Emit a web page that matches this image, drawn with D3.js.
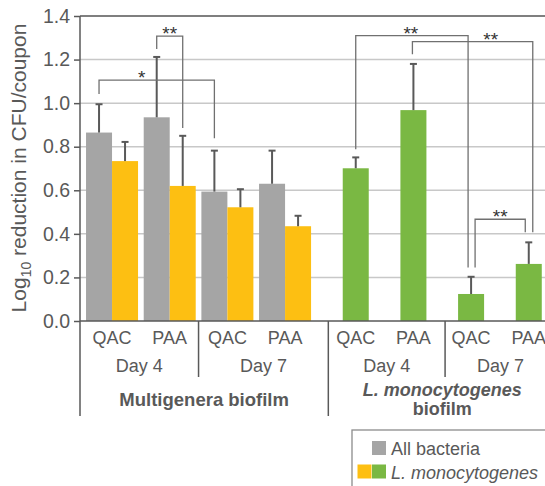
<!DOCTYPE html>
<html>
<head>
<meta charset="utf-8">
<script src="https://cdn.jsdelivr.net/npm/d3@7"></script>
<style>
  body { margin: 0; background: #fff; }
  svg { display: block; font-family: "Liberation Sans", Arial, sans-serif; }
  .lbl { fill: #595959; }
</style>
</head>
<body>
<div id="chart"></div>
<script>
// values (log10 reduction, mean and SD)
var treatments = ["QAC", "PAA", "QAC", "PAA", "QAC", "PAA", "QAC", "PAA"];
var days = ["Day 4", "Day 4", "Day 7", "Day 7", "Day 4", "Day 4", "Day 7", "Day 7"];
var biofilms = ["multi", "multi", "multi", "multi", "lm", "lm", "lm", "lm"];
var allMean = [0.865, 0.935, 0.594, 0.630, null, null, null, null];
var allErr = [0.130, 0.277, 0.188, 0.152, null, null, null, null];
var lmMean = [0.734, 0.620, 0.522, 0.435, 0.701, 0.968, 0.124, 0.262];
var lmErr = [0.088, 0.230, 0.083, 0.048, 0.050, 0.212, 0.079, 0.099];
var yTicks = [0, 0.2, 0.4, 0.6, 0.8, 1.0, 1.2, 1.4];

// significance brackets: [category, series, nudge] ends, bar height, leg ends, label
var brackets = [
  { a: [0, "all"], b: [2, "all"], y: 1.106, ya: 1.042, yb: 0.839, text: "*", at: 0.37 },
  { a: [1, "all"], b: [1, "lm"], y: 1.308, ya: 1.249, yb: 0.886, text: "**", at: 0.5 },
  { a: [4, "lm"], b: [6, "lm", -3], y: 1.310, ya: 0.788, yb: 0.246, text: "**", at: 0.49 },
  { a: [5, "lm", -1], b: [7, "lm", 4], y: 1.282, ya: 1.224, yb: 0.407, text: "**", at: 0.65 },
  { a: [6, "lm", 4], b: [7, "lm", -3.5], y: 0.467, ya: 0.246, yb: 0.407, text: "**", at: 0.5 }
];

var colors = { all: "#a5a5a5", multi: "#fdbf12", lm: "#7ab843" };
var ink = "#595959";

var width = 545, height = 486;
var svg = d3.select("#chart").append("svg")
  .attr("width", width)
  .attr("height", height);

var idx = d3.range(treatments.length);
var x0 = d3.scaleBand().domain(idx).range([83.2, 544.6]).padding(0);
var x1 = d3.scaleBand().domain(["all", "lm"]).range([0, x0.bandwidth()])
  .paddingInner(0).paddingOuter(0.109);
var y = d3.scaleLinear().domain([0, 1.4]).range([321, 16]);

function barX(i, s) { return x0(i) + x1(s); }
function barMid(i, s) { return barX(i, s) + x1.bandwidth() / 2; }

// gridlines
svg.append("g")
  .selectAll("line")
  .data(yTicks.filter(function(d) { return d > 0; }))
  .enter().append("line")
    .attr("x1", 80).attr("x2", width)
    .attr("y1", function(d) { return y(d); })
    .attr("y2", function(d) { return y(d); })
    .attr("stroke", function(d) { return d === 1.4 ? "#555" : "#c8c8c8"; })
    .attr("stroke-width", 1.5);

// y axis
var yAxis = svg.append("g")
  .attr("transform", "translate(80,0)")
  .call(d3.axisLeft(y).tickValues(yTicks).tickSize(6).tickPadding(4)
    .tickFormat(d3.format(".1f")));
yAxis.select(".domain").remove();
yAxis.selectAll(".tick line").attr("stroke", ink).attr("stroke-width", 1.5);
yAxis.selectAll(".tick text")
  .attr("fill", ink)
  .attr("font-size", 19.5)
  .attr("font-family", "Liberation Sans, Arial, sans-serif");

// bars
var rows = idx.map(function(i) {
  return { i: i, all: allMean[i], allE: allErr[i], lm: lmMean[i], lmE: lmErr[i], bio: biofilms[i] };
});

var bars = [];
rows.forEach(function(r) {
  if (r.all != null) bars.push({ i: r.i, s: "all", v: r.all, e: r.allE, c: colors.all });
  bars.push({ i: r.i, s: "lm", v: r.lm, e: r.lmE, c: r.bio === "multi" ? colors.multi : colors.lm });
});

svg.append("g").selectAll("rect")
  .data(bars)
  .enter().append("rect")
    .attr("x", function(d) { return barX(d.i, d.s); })
    .attr("width", x1.bandwidth())
    .attr("y", function(d) { return y(d.v); })
    .attr("height", function(d) { return y(0) - y(d.v); })
    .attr("fill", function(d) { return d.c; });

// error bars (upper only)
var eb = svg.append("g").attr("stroke", ink).attr("stroke-width", 2);
bars.forEach(function(d) {
  var cx = barMid(d.i, d.s);
  eb.append("line").attr("x1", cx).attr("x2", cx)
    .attr("y1", y(d.v)).attr("y2", y(d.v + d.e));
  eb.append("line").attr("x1", cx - 3.5).attr("x2", cx + 3.5)
    .attr("y1", y(d.v + d.e)).attr("y2", y(d.v + d.e));
});

// significance brackets
var bg = svg.append("g");
brackets.forEach(function(b) {
  var xa = barMid(b.a[0], b.a[1]) + (b.a[2] || 0);
  var xb = barMid(b.b[0], b.b[1]) + (b.b[2] || 0);
  bg.append("path")
    .attr("d", "M" + xa + "," + y(b.ya) + "V" + y(b.y) + "H" + xb + "V" + y(b.yb))
    .attr("fill", "none")
    .attr("stroke", "#707070")
    .attr("stroke-width", 1.3);
  bg.append("text")
    .attr("x", xa + (xb - xa) * b.at)
    .attr("y", y(b.y) + 4)
    .attr("text-anchor", "middle")
    .attr("font-size", 19)
    .attr("fill", "#333")
    .text(b.text);
});

// x axis line
svg.append("line")
  .attr("x1", 80).attr("x2", width)
  .attr("y1", y(0)).attr("y2", y(0))
  .attr("stroke", ink).attr("stroke-width", 1.5);

// category label table
var sepDay1 = x0(2);
var sepGroup = (x0(4) + x0(4) + x1("lm")) / 2;
var sepDay2 = x0(6) + x1.bandwidth() / 2 + x1("all");
var rightEdge = 556;

var seps = [
  { x: 80, y1: 16, y2: 416 },
  { x: sepDay1, y1: y(0), y2: 377 },
  { x: sepGroup, y1: y(0), y2: 416 },
  { x: sepDay2, y1: y(0), y2: 377 }
];
svg.append("g").selectAll("line")
  .data(seps)
  .enter().append("line")
    .attr("x1", function(d) { return d.x; }).attr("x2", function(d) { return d.x; })
    .attr("y1", function(d) { return d.y1; }).attr("y2", function(d) { return d.y2; })
    .attr("stroke", ink).attr("stroke-width", 1.5);

// treatment labels, centred under the visible bars
svg.append("g").selectAll("text")
  .data(rows)
  .enter().append("text")
    .attr("class", "lbl")
    .attr("x", function(r) {
      return r.all != null ? x0(r.i) + x0.bandwidth() / 2 : barMid(r.i, "lm");
    })
    .attr("y", 344)
    .attr("text-anchor", "middle")
    .attr("font-size", 18)
    .text(function(r) { return treatments[r.i]; });

var dayCells = [
  { text: days[0], a: 80, b: sepDay1 },
  { text: days[2], a: sepDay1, b: sepGroup },
  { text: days[4], a: sepGroup, b: sepDay2 },
  { text: days[6], a: sepDay2, b: rightEdge }
];
svg.append("g").selectAll("text")
  .data(dayCells)
  .enter().append("text")
    .attr("class", "lbl")
    .attr("x", function(d) { return (d.a + d.b) / 2; })
    .attr("y", 372)
    .attr("text-anchor", "middle")
    .attr("font-size", 18)
    .text(function(d) { return d.text; });

svg.append("text")
  .attr("class", "lbl")
  .attr("x", (80 + sepGroup) / 2).attr("y", 406)
  .attr("text-anchor", "middle")
  .attr("font-size", 18.5).attr("font-weight", "bold")
  .text("Multigenera biofilm");

var lmX = (sepGroup + rightEdge) / 2;
svg.append("text")
  .attr("class", "lbl")
  .attr("x", lmX).attr("y", 396)
  .attr("text-anchor", "middle")
  .attr("font-size", 18).attr("font-weight", "bold").attr("font-style", "italic")
  .text("L. monocytogenes");
svg.append("text")
  .attr("class", "lbl")
  .attr("x", lmX).attr("y", 415)
  .attr("text-anchor", "middle")
  .attr("font-size", 18).attr("font-weight", "bold")
  .text("biofilm");

// y axis title
var yt = svg.append("text")
  .attr("class", "lbl")
  .attr("transform", "translate(26,168) rotate(-90)")
  .attr("text-anchor", "middle")
  .attr("font-size", 21);
yt.append("tspan").text("Log");
yt.append("tspan").attr("font-size", 14).attr("dy", 5).text("10");
yt.append("tspan").attr("dy", -5).text(" reduction in CFU/coupon");

// legend
var lg = svg.append("g");
lg.append("rect")
  .attr("x", 352).attr("y", 430)
  .attr("width", 220).attr("height", 80)
  .attr("fill", "#fff").attr("stroke", "#8c8c8c").attr("stroke-width", 1.3);
var legendItems = [
  { swatches: [colors.all], text: "All bacteria", italic: false, y: 441 },
  { swatches: [colors.multi, colors.lm], text: "L. monocytogenes", italic: true, y: 464.5 }
];
legendItems.forEach(function(it) {
  it.swatches.forEach(function(c, k) {
    var n = it.swatches.length;
    lg.append("rect")
      .attr("x", 372 - (n - 1 - k) * 14.5)
      .attr("y", it.y)
      .attr("width", 14).attr("height", 14)
      .attr("fill", c);
  });
  lg.append("text")
    .attr("class", "lbl")
    .attr("x", 391).attr("y", it.y + 14)
    .attr("font-size", 18)
    .attr("font-style", it.italic ? "italic" : null)
    .text(it.text);
});
</script>
</body>
</html>
